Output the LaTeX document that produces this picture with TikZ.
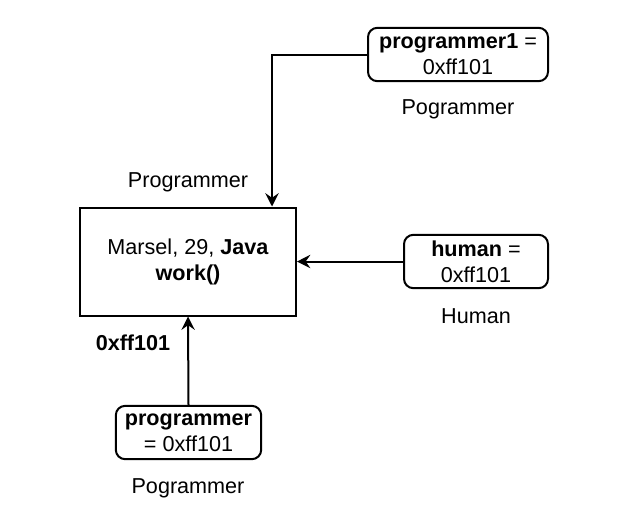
\documentclass[tikz,border=0pt]{standalone}
\usepackage{fontspec}
\setmainfont{Liberation Sans}
\usetikzlibrary{arrows.meta,positioning}

\begin{document}
\begin{tikzpicture}[
    x=0.75pt, y=-0.75pt,
    every node/.style={font=\fontsize{16.2}{19.5}\selectfont, align=center, inner sep=0pt},
    obj/.style={rectangle, draw, line width=1.5pt, minimum width=162pt, minimum height=81pt},
    ref/.style={rectangle, draw, line width=1.5pt, rounded corners=7pt, minimum height=40pt},
    arrow/.style={-{Stealth[length=10pt, width=10pt, inset=3.5pt]}, line width=1.5pt}
]
\useasboundingbox (0,0) rectangle (621,526);

\node[obj] (obj) at (188,261.5) {Marsel, 29, \textbf{Java}\\\textbf{work()}};
\node[ref, minimum width=135pt] (ref1) at (458,54.5) {\textbf{programmer1} =\\0xff101};
\node[ref, minimum width=108pt] (humanref) at (476,261.5) {\textbf{human} =\\0xff101};
\node[ref, minimum width=109pt] (progref) at (188.5,432.5) {\textbf{programmer}\\= 0xff101};

\draw[arrow] (ref1.west) -| ([xshift=63pt]obj.north);
\draw[arrow] (humanref.west) -- (obj.east);
\draw[arrow] (progref.north) -- (obj.south);

\node (type1) at (458,109) {Pogrammer};
\node (typeobj) at (188,182) {Programmer};
\node (typehuman) at (476,316) {Human};
\node (addr) at (133,343) {\textbf{0xff101}};
\node (type2) at (188,488) {Pogrammer};
\end{tikzpicture}
\end{document}
